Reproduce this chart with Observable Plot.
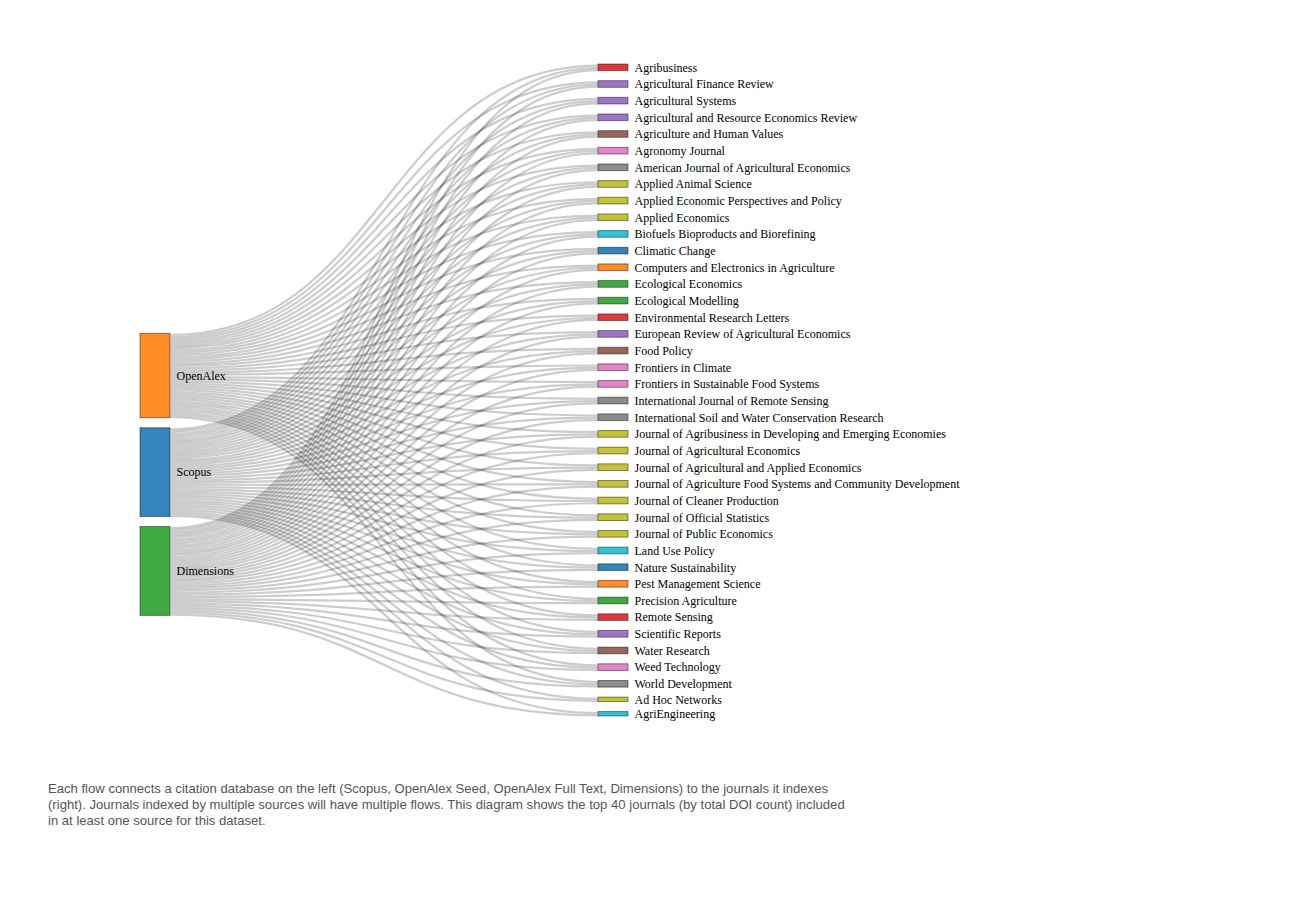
<!DOCTYPE html>
<html>
<head>
<meta charset="utf-8">
<script src="https://cdn.jsdelivr.net/npm/d3@7"></script>
<script src="https://cdn.jsdelivr.net/npm/@observablehq/plot@0.6"></script>
<style>
  html, body { margin: 0; padding: 0; background: #fff; }
  #chart svg { display: block; }
  #caption {
    margin: 21px 0 0 48px;
    font: 13.1px "Liberation Sans", Arial, Helvetica, sans-serif;
    color: #555;
    line-height: 16px;
    white-space: nowrap;
  }
</style>
</head>
<body>
<div id="chart"></div>
<div id="caption">Each flow connects a citation database on the left (Scopus, OpenAlex Seed, OpenAlex Full Text, Dimensions) to the journals it indexes<br>(right). Journals indexed by multiple sources will have multiple flows. This diagram shows the top 40 journals (by total DOI count) included<br>in at least one source for this dataset.</div>
<script>
// ---------------- DATA ----------------
const sources = ["Scopus", "OpenAlex", "Dimensions"];

const journals = [
  "Agribusiness",
  "Agricultural Finance Review",
  "Agricultural Systems",
  "Agricultural and Resource Economics Review",
  "Agriculture and Human Values",
  "Agronomy Journal",
  "American Journal of Agricultural Economics",
  "Applied Animal Science",
  "Applied Economic Perspectives and Policy",
  "Applied Economics",
  "Biofuels Bioproducts and Biorefining",
  "Climatic Change",
  "Computers and Electronics in Agriculture",
  "Ecological Economics",
  "Ecological Modelling",
  "Environmental Research Letters",
  "European Review of Agricultural Economics",
  "Food Policy",
  "Frontiers in Climate",
  "Frontiers in Sustainable Food Systems",
  "International Journal of Remote Sensing",
  "International Soil and Water Conservation Research",
  "Journal of Agribusiness in Developing and Emerging Economies",
  "Journal of Agricultural Economics",
  "Journal of Agricultural and Applied Economics",
  "Journal of Agriculture Food Systems and Community Development",
  "Journal of Cleaner Production",
  "Journal of Official Statistics",
  "Journal of Public Economics",
  "Land Use Policy",
  "Nature Sustainability",
  "Pest Management Science",
  "Precision Agriculture",
  "Remote Sensing",
  "Scientific Reports",
  "Water Research",
  "Weed Technology",
  "World Development",
  "Ad Hoc Networks",
  "AgriEngineering"
];

// flow value from each source to each journal (same order as journals); 0 = not indexed
const scopusFlows     = [1,1,1,1,1,1,1,1,1,1, 1,1,1,1,1,1,1,1,1,1, 1,1,1,1,1,1,1,1,1,1, 1,1,1,1,1,1,1,1,1,1];
const openAlexFlows   = [1,1,1,1,1,1,1,1,1,1, 1,1,1,1,1,1,1,1,1,1, 1,1,1,1,1,1,1,1,1,1, 1,1,1,1,1,1,1,1,0,0];
const dimensionsFlows = [1,1,1,1,1,1,1,1,1,1, 1,1,1,1,1,1,1,1,1,1, 1,1,1,1,1,1,1,1,1,1, 1,1,1,1,1,1,1,1,1,1];

const category10 = ["#1f77b4","#ff7f0e","#2ca02c","#d62728","#9467bd","#8c564b","#e377c2","#7f7f7f","#bcbd22","#17becf"];

// ---------------- LAYOUT CONFIG ----------------
const W = 1300, H = 760;
const extent = {x0: 140, y0: 64, x1: 628, y1: 716};
const nodeWidth = 30, nodePadding = 10, iterations = 32;

// ---------------- BUILD GRAPH ----------------
const flowsBySource = {Scopus: scopusFlows, OpenAlex: openAlexFlows, Dimensions: dimensionsFlows};
const nodes = [...sources, ...journals].map(name => ({name}));
const links = [];
for (const s of sources) {
  flowsBySource[s].forEach((v, i) => { if (v > 0) links.push({source: s, target: journals[i], value: v}); });
}

// ---------------- SANKEY LAYOUT (classic d3-sankey algorithm) ----------------
function sankeyLayout(nodes, links, ext, dx, py, iters) {
  const {x0, y0, x1, y1} = ext;
  nodes.forEach((n, i) => { n.index = i; n.sourceLinks = []; n.targetLinks = []; });
  const byName = new Map(nodes.map(n => [n.name, n]));
  links.forEach((l, i) => {
    l.index = i;
    l.source = byName.get(l.source); l.target = byName.get(l.target);
    l.source.sourceLinks.push(l); l.target.targetLinks.push(l);
  });
  nodes.forEach(n => n.value = Math.max(d3.sum(n.sourceLinks, l => l.value), d3.sum(n.targetLinks, l => l.value)));
  // depths
  let current = nodes, next, x = 0;
  while (current.length) {
    next = [];
    current.forEach(n => { n.depth = x; n.sourceLinks.forEach(l => { if (next.indexOf(l.target) < 0) next.push(l.target); }); });
    ++x; current = next;
  }
  const kx = (x1 - x0 - dx) / (x - 1);
  nodes.forEach(n => {
    const col = n.sourceLinks.length ? n.depth : x - 1; // justify
    n.x0 = x0 + Math.max(0, Math.min(x - 1, Math.floor(col))) * kx;
    n.x1 = n.x0 + dx;
  });
  const columns = d3.groups(nodes, n => n.x0).sort((a, b) => a[0] - b[0]).map(d => d[1]);
  const ascendingBreadth = (a, b) => a.y0 - b.y0;
  const center = n => (n.y0 + n.y1) / 2;

  const ky = d3.min(columns, c => (y1 - y0 - (c.length - 1) * py) / d3.sum(c, n => n.value));
  columns.forEach(c => c.forEach((n, i) => { n.y0 = i; n.y1 = i + n.value * ky; }));
  links.forEach(l => l.width = l.value * ky);

  function resolveCollisions() {
    columns.forEach(c => {
      let n, dy, y = y0, i;
      c.sort(ascendingBreadth);
      for (i = 0; i < c.length; ++i) {
        n = c[i]; dy = y - n.y0;
        if (dy > 0) { n.y0 += dy; n.y1 += dy; }
        y = n.y1 + py;
      }
      dy = y - py - y1;
      if (dy > 0) {
        y = (n.y0 -= dy); n.y1 -= dy;
        for (i = c.length - 2; i >= 0; --i) {
          n = c[i]; dy = n.y1 + py - y;
          if (dy > 0) { n.y0 -= dy; n.y1 -= dy; }
          y = n.y0;
        }
      }
    });
  }
  function relaxLeftToRight(alpha) {
    columns.forEach(c => c.forEach(n => {
      if (n.targetLinks.length) {
        const dy = (d3.sum(n.targetLinks, l => center(l.source) * l.value) / d3.sum(n.targetLinks, l => l.value) - center(n)) * alpha;
        n.y0 += dy; n.y1 += dy;
      }
    }));
  }
  function relaxRightToLeft(alpha) {
    columns.slice().reverse().forEach(c => c.forEach(n => {
      if (n.sourceLinks.length) {
        const dy = (d3.sum(n.sourceLinks, l => center(l.target) * l.value) / d3.sum(n.sourceLinks, l => l.value) - center(n)) * alpha;
        n.y0 += dy; n.y1 += dy;
      }
    }));
  }
  resolveCollisions();
  for (let alpha = 1, k = iters; k > 0; --k) {
    relaxRightToLeft(alpha *= 0.99);
    resolveCollisions();
    relaxLeftToRight(alpha);
    resolveCollisions();
  }
  // link breadths
  nodes.forEach(n => {
    n.sourceLinks.sort((a, b) => a.target.y0 - b.target.y0 || a.index - b.index);
    n.targetLinks.sort((a, b) => a.source.y0 - b.source.y0 || a.index - b.index);
  });
  nodes.forEach(n => {
    let ya = n.y0, yb = n.y0;
    n.sourceLinks.forEach(l => { l.y0 = ya + l.width / 2; ya += l.width; });
    n.targetLinks.forEach(l => { l.y1 = yb + l.width / 2; yb += l.width; });
  });
}
sankeyLayout(nodes, links, extent, nodeWidth, nodePadding, iterations);

// colour by first word of the node name
const firstWord = name => name.replace(/ .*/, "");
const colorDomain = [...new Set(nodes.map(n => firstWord(n.name)))];
const colorRange = colorDomain.map((_, i) => category10[i % 10]);

const serif = "'Liberation Serif', 'Times New Roman', Times, serif";

const chart = Plot.plot({
  width: W,
  height: H,
  margin: 0,
  x: {domain: [0, W], range: [0, W], axis: null},
  y: {domain: [0, H], range: [0, H], axis: null},
  color: {type: "ordinal", domain: colorDomain, range: colorRange},
  style: {background: "#fff", overflow: "visible"},
  marks: [
    Plot.link(links, {
      x1: d => d.source.x1, y1: d => d.y0,
      x2: d => d.target.x0, y2: d => d.y1,
      curve: "bump-x",
      stroke: "#000", strokeOpacity: 0.2,
      strokeWidth: d => Math.max(1, d.width)
    }),
    Plot.rect(nodes, {
      x1: "x0", x2: "x1", y1: "y0", y2: "y1",
      fill: d => firstWord(d.name), fillOpacity: 0.9,
      stroke: "#000", strokeOpacity: 0.45, strokeWidth: 1
    }),
    Plot.text(nodes, {
      x: d => d.x1 + 6, y: d => (d.y0 + d.y1) / 2,
      text: "name", textAnchor: "start",
      fontFamily: serif, fontSize: 12, fill: "#000"
    })
  ]
});
document.getElementById("chart").appendChild(chart);
</script>
</body>
</html>
